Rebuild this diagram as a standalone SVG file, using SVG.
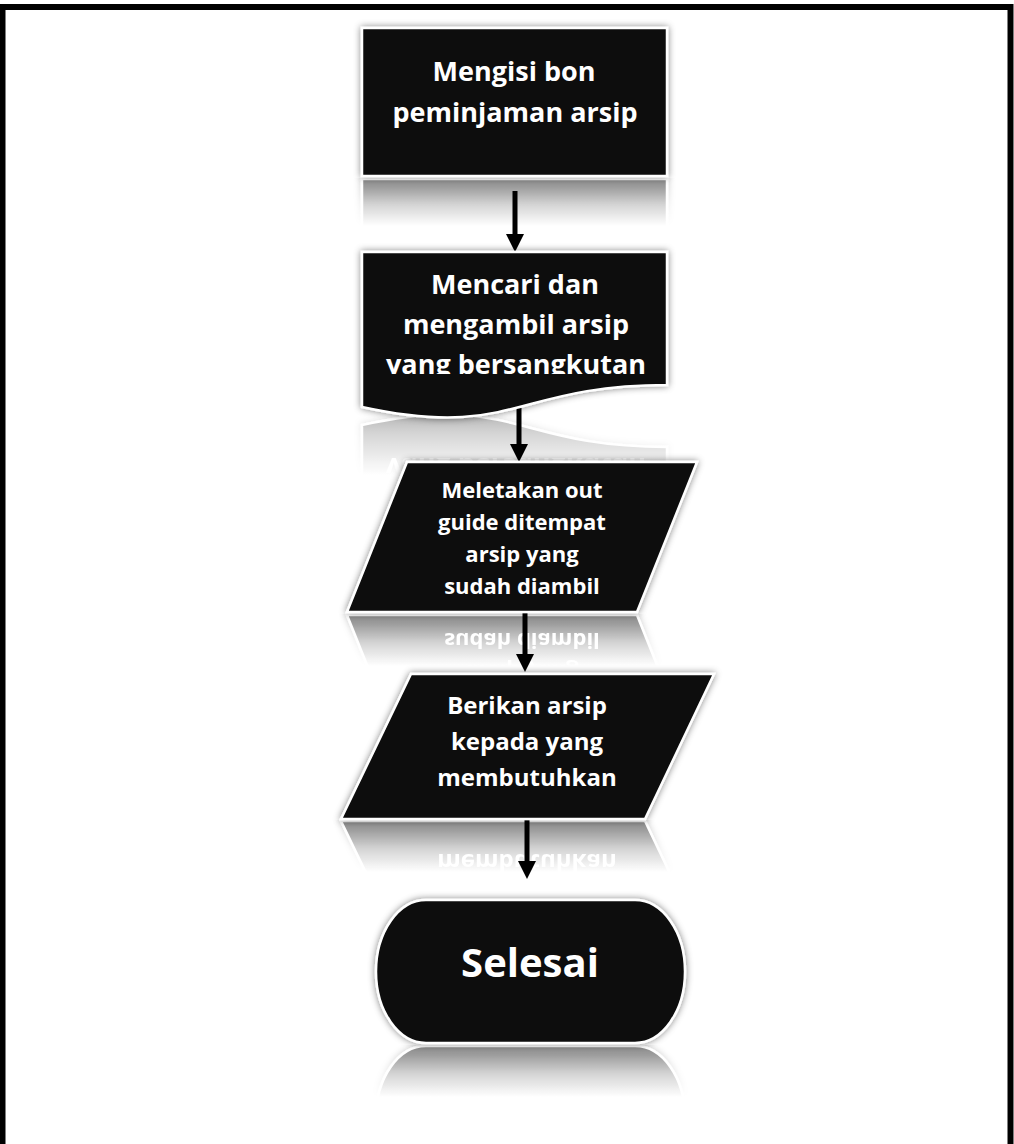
<svg xmlns="http://www.w3.org/2000/svg" xmlns:xlink="http://www.w3.org/1999/xlink" width="1014" height="1144" viewBox="0 0 1014 1144">
<style>
.shape{fill:#0d0d0d;stroke:#ffffff;stroke-width:2.5;filter:url(#glow)}
.t{font-family:"Open Sans","Noto Sans","Liberation Sans",sans-serif;font-weight:bold;fill:#ffffff;text-anchor:middle}
.t1{font-size:27px}
.t3{font-size:22px}
.t4{font-size:24px}
.t5{font-size:40px}
.conn{stroke:#000;stroke-width:5;fill:none;marker-end:url(#ah)}
</style>
<defs>
<filter id="glow" x="-15%" y="-15%" width="130%" height="130%">
<feGaussianBlur in="SourceAlpha" stdDeviation="3.5" result="b"/>
<feFlood flood-color="#000" flood-opacity="0.5"/>
<feComposite in2="b" operator="in" result="s"/>
<feMerge><feMergeNode in="s"/><feMergeNode in="SourceGraphic"/></feMerge>
</filter>
<marker id="ah" markerUnits="userSpaceOnUse" markerWidth="18" markerHeight="18" refX="2" refY="9" orient="auto">
<path d="M0,0 L18,9 L0,18 z" fill="#000"/>
</marker>
<linearGradient id="fade" x1="0" y1="0" x2="0" y2="1">
<stop offset="0" stop-color="#fff" stop-opacity="0.5"/>
<stop offset="0.2" stop-color="#fff" stop-opacity="0.4"/>
<stop offset="0.55" stop-color="#fff" stop-opacity="0.18"/>
<stop offset="1" stop-color="#fff" stop-opacity="0"/>
</linearGradient>
<mask id="m1" maskUnits="userSpaceOnUse" x="0" y="0" width="1014" height="1144"><rect x="0" y="178" width="1014" height="48" fill="url(#fade)"/></mask>
<mask id="m2" maskUnits="userSpaceOnUse" x="0" y="0" width="1014" height="1144"><rect x="0" y="380" width="1014" height="95" fill="url(#fade)"/></mask>
<mask id="m3" maskUnits="userSpaceOnUse" x="0" y="0" width="1014" height="1144"><rect x="0" y="614" width="1014" height="52" fill="url(#fade)"/></mask>
<mask id="m4" maskUnits="userSpaceOnUse" x="0" y="0" width="1014" height="1144"><rect x="0" y="820" width="1014" height="52" fill="url(#fade)"/></mask>
<mask id="m5" maskUnits="userSpaceOnUse" x="0" y="0" width="1014" height="1144"><rect x="0" y="1045" width="1014" height="52" fill="url(#fade)"/></mask>
<clipPath id="c2"><rect x="362" y="252" width="305" height="122"/></clipPath>
</defs>
<rect x="0" y="0" width="1014" height="1144" fill="#ffffff"/>
<rect x="2.5" y="7" width="1008" height="1160" fill="none" stroke="#000" stroke-width="6"/>

<g id="reflections">
<g mask="url(#m1)"><use xlink:href="#n1" transform="matrix(1 0 0 -1 0 355)"/></g>
<g mask="url(#m2)"><use xlink:href="#n2" transform="matrix(1 0 0 -1 0 832)"/></g>
<g mask="url(#m3)"><use xlink:href="#n3" transform="matrix(1 0 0 -1 0 1227)"/></g>
<g mask="url(#m4)"><use xlink:href="#n4" transform="matrix(1 0 0 -1 0 1640)"/></g>
<g mask="url(#m5)"><use xlink:href="#n5" transform="matrix(1 0 0 -1 0 2089)"/></g>
</g>

<g id="connectors">
<line class="conn" x1="515" y1="191" x2="515" y2="236"/>
<line class="conn" x1="519" y1="408" x2="519" y2="446"/>
<line class="conn" x1="525" y1="613" x2="525" y2="656"/>
<line class="conn" x1="527" y1="818" x2="527" y2="863"/>
</g>

<g id="n1">
<rect class="shape" x="362" y="28" width="305" height="148"/>
<text class="t t1" x="514" y="81">Mengisi bon</text>
<text class="t t1" x="515" y="122">peminjaman arsip</text>
</g>

<g id="n2">
<path class="shape" d="M362,252 H667 V385 C514,385 514,440 362,407 Z"/>
<g clip-path="url(#c2)">
<text class="t t1" x="515" y="294">Mencari dan</text>
<text class="t t1" x="516" y="334">mengambil arsip</text>
<text class="t t1" x="516" y="374">yang bersangkutan</text>
</g>
</g>

<g id="n3">
<path class="shape" d="M407,462 L697,462 L637,612 L347,612 Z"/>
<text class="t t3" x="522" y="498">Meletakan out</text>
<text class="t t3" x="522" y="530">guide ditempat</text>
<text class="t t3" x="522" y="562">arsip yang</text>
<text class="t t3" x="522" y="594">sudah diambil</text>
</g>

<g id="n4">
<path class="shape" d="M411,674 L714,674 L645,819 L341,819 Z"/>
<text class="t t4" x="527" y="714">Berikan arsip</text>
<text class="t t4" x="527" y="750">kepada yang</text>
<text class="t t4" x="527" y="786">membutuhkan</text>
</g>

<g id="n5">
<rect class="shape" x="376" y="900" width="309" height="143" rx="50" ry="71.5"/>
<text class="t t5" x="530" y="977">Selesai</text>
</g>
</svg>
